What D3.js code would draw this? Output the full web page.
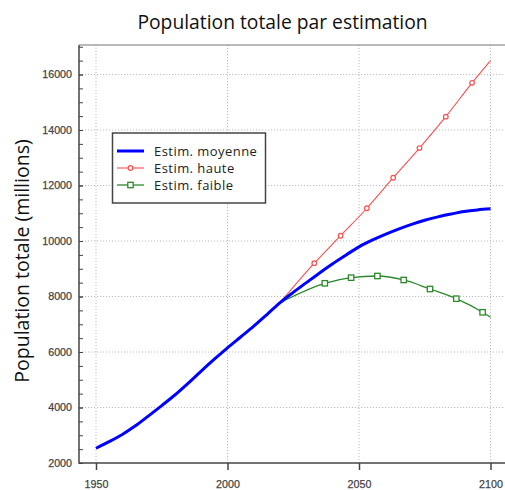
<!DOCTYPE html>
<html>
<head>
<meta charset="utf-8">
<script src="https://cdn.jsdelivr.net/npm/d3@7"></script>
<style>
  body { margin: 0; background: #fff; }
  svg { display: block; }
</style>
</head>
<body>
<svg id="chart"></svg>
<script>
// valeurs (millions)
const anneesMoy = [1950,1955,1960,1965,1970,1975,1980,1985,1990,1995,2000,2005,2010,2015,2020,2025,2030,2035,2040,2045,2050,2055,2060,2065,2070,2075,2080,2085,2090,2095,2100]
const moyenne = [2530,2770,3030,3340,3700,4070,4450,4870,5310,5740,6150,6540,6930,7350,7780,8150,8500,8850,9180,9490,9790,10030,10240,10430,10600,10750,10870,10970,11060,11120,11160]

const anneesHaute = [2020,2033,2043,2053,2063,2073,2083,2093,2100]
const haute = [7780,9200,10190,11180,12280,13350,14480,15700,16500]

const anneesFaible = [2020,2037,2047,2057,2067,2077,2087,2097,2100]
const faible = [7780,8476,8678,8739,8595,8270,7921,7431,7250]

const xTicks = [1950,2000,2050,2100]
const yTicks = [2000,4000,6000,8000,10000,12000,14000,16000]
const legendLabels = ['Estim. moyenne','Estim. haute','Estim. faible']

const width = 505, height = 490
const svg = d3.select('#chart').attr('width', width).attr('height', height)

const x = d3.scaleLinear().domain([1950, 2100]).range([96, 490.5])
const y = d3.scaleLinear().domain([2000, 16000]).range([463, 74.5])
const plotLeft = 79, plotTop = 45, plotBottom = 463

// grille pointillee
svg.append('g').selectAll('line').data(yTicks.slice(1)).enter().append('line')
    .attr('x1', plotLeft).attr('x2', width)
    .attr('y1', d => y(d)).attr('y2', d => y(d))
    .attr('stroke', '#bdbdbd').attr('stroke-dasharray', '1.2,1.8')
svg.append('g').selectAll('line').data(xTicks).enter().append('line')
    .attr('x1', d => x(d)).attr('x2', d => x(d))
    .attr('y1', plotTop).attr('y2', plotBottom)
    .attr('stroke', '#bdbdbd').attr('stroke-dasharray', '1.2,1.8')

// axes
const minor = d3.range(2000, 17001, 500)
svg.append('g').attr('transform', `translate(${plotLeft},0)`)
    .call(d3.axisLeft(y).tickValues(minor).tickSize(-4).tickFormat(''))
    .call(g => g.select('.domain').remove())
    .selectAll('line').attr('stroke', '#444')

svg.append('g').attr('transform', `translate(${plotLeft},0)`)
    .call(d3.axisLeft(y).tickValues(yTicks).tickSize(-4).tickPadding(7).tickFormat(d3.format('d')))
    .call(g => g.select('.domain').remove())
    .call(g => g.selectAll('line').attr('stroke', '#444'))
    .selectAll('text')
    .attr('font-family', 'Liberation Sans, Arial, sans-serif')
    .attr('font-size', 10.7)
    .attr('fill', '#444').attr('stroke', '#444').attr('stroke-width', 0.25)

svg.append('g').attr('transform', `translate(0,${plotBottom})`)
    .call(d3.axisBottom(x).tickValues(xTicks).tickSize(7).tickPadding(10.5).tickFormat(d3.format('d')))
    .call(g => g.select('.domain').remove())
    .call(g => g.selectAll('line').attr('stroke', '#444').attr('stroke-width', 1.5))
    .selectAll('text')
    .attr('font-family', 'Liberation Sans, Arial, sans-serif')
    .attr('font-size', 10.7)
    .attr('fill', '#444').attr('stroke', '#444').attr('stroke-width', 0.25)

svg.append('line').attr('x1', plotLeft).attr('x2', plotLeft).attr('y1', plotTop).attr('y2', plotBottom + 0.75)
    .attr('stroke', '#444').attr('stroke-width', 1.5)
svg.append('line').attr('x1', plotLeft).attr('x2', width).attr('y1', plotBottom).attr('y2', plotBottom)
    .attr('stroke', '#444').attr('stroke-width', 1.5)
svg.append('line').attr('x1', plotLeft).attr('x2', width).attr('y1', plotTop).attr('y2', plotTop)
    .attr('stroke', '#777').attr('stroke-width', 1)

// courbes
const line = d3.line().x(d => x(d[0])).y(d => y(d[1])).curve(d3.curveMonotoneX)
const series = [
    {yrs: anneesFaible, vals: faible, color: '#2b892b', w: 1.3, mark: 'square'},
    {yrs: anneesHaute, vals: haute, color: '#ff4d4d', w: 1.1, mark: 'circle'},
    {yrs: anneesMoy, vals: moyenne, color: '#0000ff', w: 3, mark: null}
]
series.forEach(s => {
    const pts = s.yrs.map((a, i) => [a, s.vals[i]])
    svg.append('path').datum(pts)
        .attr('d', line).attr('fill', 'none')
        .attr('stroke', s.color).attr('stroke-width', s.w)
    if (s.mark === 'circle') {
        svg.append('g').selectAll('circle').data(pts.slice(1, -1)).enter().append('circle')
            .attr('cx', d => x(d[0])).attr('cy', d => y(d[1])).attr('r', 2.3)
            .attr('fill', '#fff').attr('stroke', s.color).attr('stroke-width', 1.2)
    } else if (s.mark === 'square') {
        svg.append('g').selectAll('rect').data(pts.slice(1, -1)).enter().append('rect')
            .attr('x', d => x(d[0]) - 2.7).attr('y', d => y(d[1]) - 2.7)
            .attr('width', 5.4).attr('height', 5.4)
            .attr('fill', '#fff').attr('stroke', s.color).attr('stroke-width', 1.3)
    }
})

// legende
const lg = svg.append('g')
lg.append('rect').attr('x', 112.5).attr('y', 133).attr('width', 153).attr('height', 70)
    .attr('fill', '#fff').attr('stroke', '#444').attr('stroke-width', 1.5)
const legendStyle = [series[2], series[1], series[0]]
legendLabels.forEach((lab, i) => {
    const ly = 151 + i * 17
    const s = legendStyle[i]
    lg.append('line').attr('x1', 117).attr('x2', 144).attr('y1', ly).attr('y2', ly)
        .attr('stroke', s.color).attr('stroke-width', s.w)
    if (s.mark === 'circle') {
        lg.append('circle').attr('cx', 130.5).attr('cy', ly).attr('r', 2.3)
            .attr('fill', '#fff').attr('stroke', s.color).attr('stroke-width', 1.2)
    } else if (s.mark === 'square') {
        lg.append('rect').attr('x', 127.8).attr('y', ly - 2.7).attr('width', 5.4).attr('height', 5.4)
            .attr('fill', '#fff').attr('stroke', s.color).attr('stroke-width', 1.3)
    }
    lg.append('text').attr('x', 154).attr('y', ly + 4.5).text(lab)
        .attr('font-family', 'Open Sans, sans-serif').attr('font-size', 13)
        .attr('letter-spacing', 0.45).attr('fill', '#222')
})

// titres
svg.append('text').attr('x', 282.5).attr('y', 29).attr('text-anchor', 'middle')
    .attr('font-family', 'Open Sans, sans-serif').attr('font-size', 19.3).attr('fill', '#111')
    .text('Population totale par estimation')
svg.append('text').attr('transform', 'translate(29,261) rotate(-90)').attr('text-anchor', 'middle')
    .attr('font-family', 'Open Sans, sans-serif').attr('font-size', 19.5).attr('fill', '#111')
    .text('Population totale (millions)')
</script>
</body>
</html>
